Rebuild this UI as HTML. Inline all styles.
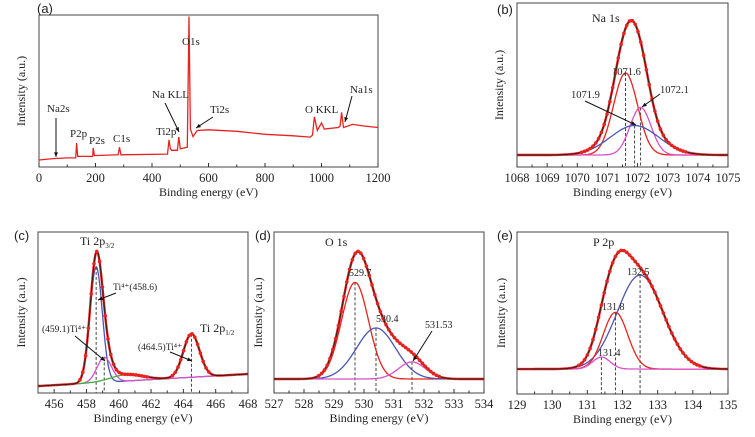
<!DOCTYPE html>
<html><head><meta charset="utf-8">
<style>
html,body{margin:0;padding:0;background:#fff;}
svg{display:block;}
text{font-family:"Liberation Serif",serif;fill:#222;}
.lbl{font-family:"Liberation Sans",sans-serif;}
</style></head>
<body>
<svg id="fig" width="755" height="437" viewBox="0 0 755 437" xmlns="http://www.w3.org/2000/svg"></svg>
<script>
// ---- Panel (a) survey data ----
const surveyEnergy = [0,50,100,130,133,137,190,192,196,280,285,290,455,460,465,470,490,495,500,525,531,536,545,560,600,700,800,900,960,968,975,985,1000,1010,1060,1066,1071,1078,1110,1150,1200];
const surveyIntensity = [4.6,5.5,6,6,15.8,7,7,12.5,7.5,8,13,8,8.5,17.8,12,11,11,19.7,12,13,99,25,20,24,24.5,23.5,21.5,20.5,19.7,21,33,24,29,25,26,27,36,26,28,27,26];
const surveyTicks = [0,200,400,600,800,1000,1200];
// ---- Panel (b) Na 1s ----
const naCenters = [1071.6,1072.1,1071.9];
const naHeights = [50,29,18];
const naSigmas = [0.4,0.35,0.8];
const naBaseline = [7.3,7.3];
const naTicks = [1068,1069,1070,1071,1072,1073,1074,1075];
// ---- Panel (c) Ti 2p ----
const tiCenters = [458.6,459.1,464.5,460.5];
const tiHeights = [72,15.5,27,4];
const tiSigmas = [0.38,0.45,0.5,1.0];
const tiBaseline = [4.3,11.8];
const tiTicks = [456,458,460,462,464,466,468];
// ---- Panel (d) O 1s ----
const oCenters = [529.7,530.4,531.6];
const oHeights = [60,31.7,10.6];
const oSigmas = [0.45,0.65,0.45];
const oBaseline = [8.7,8.7];
const oTicks = [527,528,529,530,531,532,533,534];
// ---- Panel (e) P 2p ----
const pCenters = [132.5,131.8,131.4];
const pHeights = [58,35,7.4];
const pSigmas = [0.65,0.35,0.25];
const pBaseline = [15.4,15.4];
const pTicks = [129,130,131,132,133,134,135];

const NS="http://www.w3.org/2000/svg";
const svg=document.getElementById('fig');
function el(tag,attrs,parent){const e=document.createElementNS(NS,tag);for(const k in attrs)e.setAttribute(k,attrs[k]);(parent||svg).appendChild(e);return e;}
function txt(x,y,s,size,parent,anchor,extra){const t=el('text',Object.assign({x:x,y:y,'font-size':size,'text-anchor':anchor||'start'},extra||{}),parent);t.textContent=s;return t;}
function gauss(x,c,h,s){return h*Math.exp(-(x-c)*(x-c)/(2*s*s));}

function makeAxes(cfg){
  const g=el('g',{});
  
  
  const sx=v=>cfg.L+(v-cfg.x0)/(cfg.x1-cfg.x0)*(cfg.R-cfg.L);
  const sy=v=>cfg.B-v/100*(cfg.B-cfg.T);
  const fr=el('rect',{x:cfg.L,y:cfg.T,width:cfg.R-cfg.L,height:cfg.B-cfg.T,fill:'none',stroke:'#444','stroke-width':1},g);
  
  
  const ticks=cfg.ticks;
  const step=ticks[1]-ticks[0];
  for(let i=0;i<ticks.length;i++){
    const x=sx(ticks[i]);
    el('line',{x1:x,x2:x,y1:cfg.B,y2:cfg.B-4,stroke:'#333'},g);
    if(i<ticks.length-1){const xm=sx(ticks[i]+step/2);el('line',{x1:xm,x2:xm,y1:cfg.B,y2:cfg.B-2.5,stroke:'#333'},g);}
    const t=txt(x,cfg.B+15,String(ticks[i]),12.5,g,'middle');
    
    
  }
  const xt=txt((cfg.L+cfg.R)/2,cfg.B+29,'Binding energy (eV)',12,g,'middle');
  
  
  const yc=(cfg.T+cfg.B)/2;
  const yt=txt(cfg.yx,yc,'Intensity (a.u.)',12,g,'middle',{transform:'rotate(-90 '+cfg.yx+' '+yc+')'});
  
  
  const pl=txt(cfg.px,cfg.py,cfg.letter,13,g,'start',{'class':'lbl'});
  
  
  return {g,sx,sy};
}

function fitPanel(cfg,centers,heights,sigmas,base,colors){
  const A=makeAxes(cfg);
  const bg=x=>base[0]+(base[1]-base[0])*(x-cfg.x0)/(cfg.x1-cfg.x0);
  const N=300;const xs=[];for(let i=0;i<=N;i++)xs.push(cfg.x0+(cfg.x1-cfg.x0)*i/N);
  centers.forEach((c,k)=>{
    if(cfg.noDash&&cfg.noDash.includes(k))return;
    const d=el('line',{x1:A.sx(c),x2:A.sx(c),y1:A.sy(bg(c)+heights[k]),y2:cfg.B,stroke:'#444','stroke-dasharray':'3,2','stroke-width':1},A.g);
    
    
  });
  const groups=cfg.groups||centers.map((c,k)=>[k]);
  groups.forEach((grp,gi)=>{
    const pts=xs.map(x=>{let v=bg(x);grp.forEach(k=>{v+=gauss(x,centers[k],heights[k],sigmas[k]);});return A.sx(x).toFixed(1)+','+A.sy(v).toFixed(1);});
    const p=el('polyline',{points:pts.join(' '),fill:'none',stroke:colors[gi],'stroke-width':1.3},A.g);
    
    
  });
  const tot=x=>{let v=bg(x);centers.forEach((c,k)=>{v+=gauss(x,c,heights[k],sigmas[k]);});return v;};
  const dp=el('polyline',{points:xs.map(x=>A.sx(x).toFixed(1)+','+A.sy(tot(x)).toFixed(1)).join(' '),fill:'none',stroke:'#e8231f','stroke-width':2.4},A.g);
  
  
  const fl=el('polyline',{points:xs.map(x=>A.sx(x).toFixed(1)+','+A.sy(tot(x)).toFixed(1)).join(' '),fill:'none',stroke:'#222','stroke-width':0.9},A.g);
  
  
  for(let i=0;i<=N;i+=4){const x=xs[i];const v=tot(x);if(v-bg(x)<1.5)continue;
    const c=el('circle',{cx:A.sx(x),cy:A.sy(v),r:1.8,fill:'#e8231f'},A.g);
    
    }
  return A;
}
function arrow(x1,y1,x2,y2,g){
  const l=el('line',{x1,y1,x2,y2,stroke:'#111','stroke-width':1},g);
  
  
  const a=Math.atan2(y2-y1,x2-x1),s=5;
  const p=el('polygon',{points:[x2,y2,x2-s*Math.cos(a-0.4),y2-s*Math.sin(a-0.4),x2-s*Math.cos(a+0.4),y2-s*Math.sin(a+0.4)].join(','),fill:'#111'},g);
  
  
}
function note(x,y,s,size,g){const t=txt(x,y,s,size||11,g);return t;}

// ---- Panel (a) ----
(function(){
  const A=makeAxes({name:'panel-a-survey',L:39,R:378,T:15,B:167,x0:0,x1:1200,ticks:surveyTicks,yx:25,px:37,py:13,letter:'(a)'});
  const pts=surveyEnergy.map((e,i)=>A.sx(e).toFixed(1)+','+A.sy(surveyIntensity[i]).toFixed(1));
  const p=el('polyline',{points:pts.join(' '),fill:'none',stroke:'#e8231f','stroke-width':1.3},A.g);
  
  
  note(47,112,'Na2s',11,A.g);arrow(56,118,56,157,A.g);
  note(70,137,'P2p',11,A.g);note(89,144,'P2s',11,A.g);note(113,142,'C1s',11,A.g);
  note(156,135,'Ti2p',11,A.g);note(152,98,'Na KLL',11,A.g);arrow(165,103,179,132,A.g);
  note(182,45,'O1s',11,A.g);note(210,113,'Ti2s',11,A.g);arrow(213,117,196,128,A.g);
  note(305,113,'O KKL',11,A.g);note(350,93,'Na1s',11,A.g);arrow(352,96,345,122,A.g);
})();
// ---- Panel (b) ----
(function(){
  const A=fitPanel({name:'panel-b-na1s',L:517,R:728,T:3,B:167,x0:1068,x1:1075,ticks:naTicks,yx:503,px:497,py:14,letter:'(b)'},naCenters,naHeights,naSigmas,naBaseline,['#e8231f','#d94fc8','#4a55b8']);
  note(592,22,'Na 1s',12,A.g);note(612,75,'1071.6',10.5,A.g);note(571,98,'1071.9',10.5,A.g);note(660,93,'1072.1',10.5,A.g);
  arrow(585,101,636,125,A.g);arrow(660,94,642,107,A.g);
})();
// ---- Panel (c) ----
(function(){
  const A=fitPanel({name:'panel-c-ti2p',L:38,R:248,T:232,B:393,x0:455,x1:468,ticks:tiTicks,yx:25,px:14,py:240,letter:'(c)',groups:[[0],[1],[2,3]],noDash:[3]},tiCenters,tiHeights,tiSigmas,tiBaseline,['#4a55b8','#d94fc8','#3fae3f']);
  const t=note(80,245,'Ti 2p',12,A.g);const s=el('tspan',{'font-size':7,dy:3},t);s.textContent='3/2';
  const t2=note(200,332,'Ti 2p',12,A.g);const s2=el('tspan',{'font-size':7,dy:3},t2);s2.textContent='1/2';
  note(113,290,'Ti⁴⁺(458.6)',9.5,A.g);arrow(116,293,98,300,A.g);
  note(42,332,'(459.1)Ti⁴⁺',9.5,A.g);arrow(75,336,105,361,A.g);
  note(138,350,'(464.5)Ti⁴⁺',9.5,A.g);arrow(170,352,192,361,A.g);
})();
// ---- Panel (d) ----
(function(){
  const A=fitPanel({name:'panel-d-o1s',L:274,R:484,T:232,B:393,x0:527,x1:534,ticks:oTicks,yx:262,px:255,py:240,letter:'(d)'},oCenters,oHeights,oSigmas,oBaseline,['#e8231f','#4a55b8','#d94fc8']);
  note(325,246,'O 1s',12,A.g);note(349,276,'529.7',10,A.g);note(376,322,'530.4',10,A.g);note(425,328,'531.53',10,A.g);
  arrow(432,331,413,361,A.g);
})();
// ---- Panel (e) ----
(function(){
  const A=fitPanel({name:'panel-e-p2p',L:517,R:728,T:232,B:394,x0:129,x1:135,ticks:pTicks,yx:505,px:497,py:240,letter:'(e)'},pCenters,pHeights,pSigmas,pBaseline,['#4a55b8','#e8231f','#d94fc8']);
  note(593,246,'P 2p',12,A.g);note(627,275,'132.5',10,A.g);note(602,310,'131.8',10,A.g);note(598,356,'131.4',10,A.g);
})();
</script>
</body></html>
